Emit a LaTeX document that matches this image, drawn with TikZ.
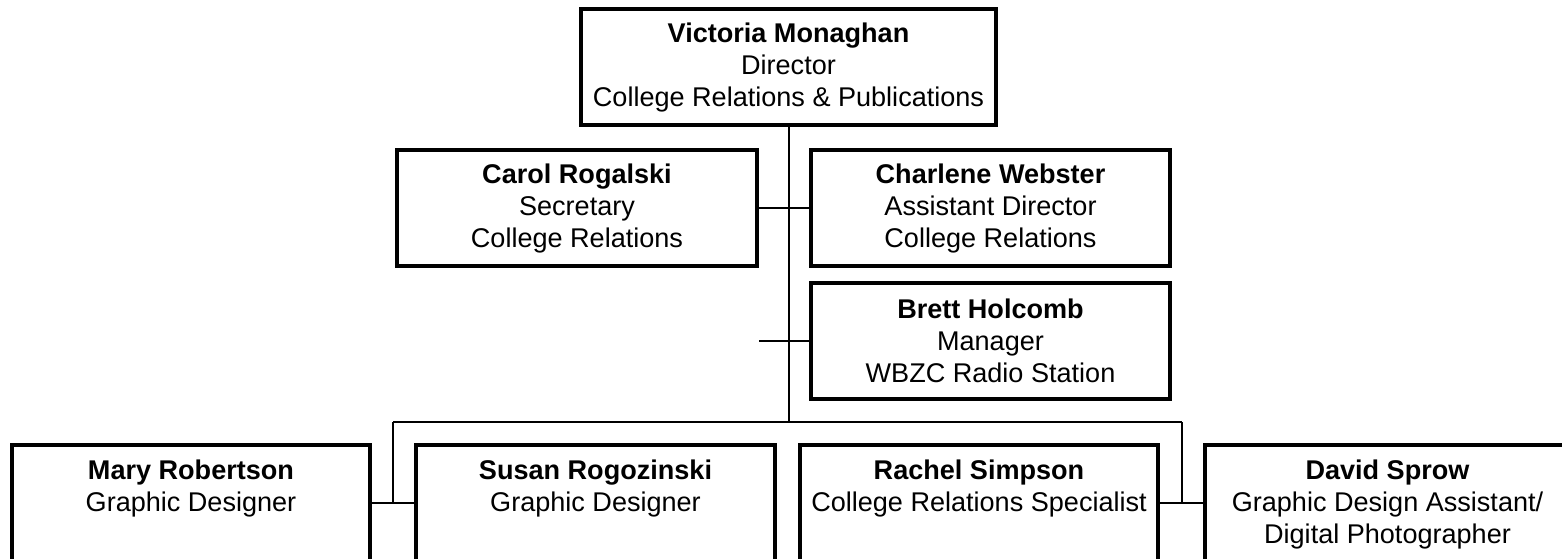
\documentclass[tikz,border=0pt]{standalone}
\usepackage{fontspec}
\setmainfont{Liberation Sans}
\begin{document}
\begin{tikzpicture}[x=0.75pt,y=-0.75pt,
  box/.style={draw=black,line width=2.6pt,rectangle,inner sep=0pt,align=center,
    font=\fontsize{20.3}{24}\selectfont},
  wbox/.style={box,minimum width=#1*0.75pt},
  lbl/.style={align=center,inner sep=0pt,anchor=north,font=\fontsize{20.3}{24}\selectfont},
  conn/.style={draw=black,line width=1.5pt}]
\useasboundingbox (0,0) rectangle (1562,558);
\clip (0,0) rectangle (1562,558);
% top level
\node[wbox=415,minimum height=87pt] (vic) at (788.5,67)
  {\textbf{Victoria Monaghan}\\Director\\College Relations \& Publications};
\node[wbox=360,minimum height=87pt] (carol) at (577,208)
  {\textbf{Carol Rogalski}\\Secretary\\College Relations};
\node[wbox=359,minimum height=87pt] (charlene) at (990.5,208)
  {\textbf{Charlene Webster}\\Assistant Director\\College Relations};
\node[wbox=359,minimum height=87pt] (brett) at (990.5,341)
  {\textbf{Brett Holcomb}\\Manager\\WBZC Radio Station};
% bottom row boxes
\node[wbox=358,minimum height=116pt] (mary) at (191,522.5) {};
\node[wbox=359,minimum height=116pt] (susan) at (595.5,522.5) {};
\node[wbox=358,minimum height=116pt] (rachel) at (979,522.5) {};
\node[wbox=365,minimum height=116pt] (david) at (1387.5,522.5) {};
\node[lbl] (maryt) at (191,460) {\textbf{Mary Robertson}\\Graphic Designer};
\node[lbl] (susant) at (595.5,460) {\textbf{Susan Rogozinski}\\Graphic Designer};
\node[lbl] (rachelt) at (979,460) {\textbf{Rachel Simpson}\\College Relations Specialist};
\node[lbl] (davidt) at (1387.5,460) {\textbf{David Sprow}\\Graphic Design Assistant/\\Digital Photographer};
% connectors
\coordinate (busM) at (788.5,422);
\coordinate (busL) at (393,422);
\coordinate (busR) at (1182,422);
\coordinate (jL) at (393,503);
\coordinate (jR) at (1182,503);
\coordinate (stub) at (759,341);
\draw[conn] (vic.south) -- (busM);
\draw[conn] (carol.east) -- (charlene.west);
\draw[conn] (stub) -- (brett.west);
\draw[conn] (busL) -- (busR);
\draw[conn] (busL) -- (jL);
\draw[conn] (busR) -- (jR);
\draw[conn] (mary.east |- jL) -- (susan.west |- jL);
\draw[conn] (rachel.east |- jR) -- (david.west |- jR);
\end{tikzpicture}
\end{document}
